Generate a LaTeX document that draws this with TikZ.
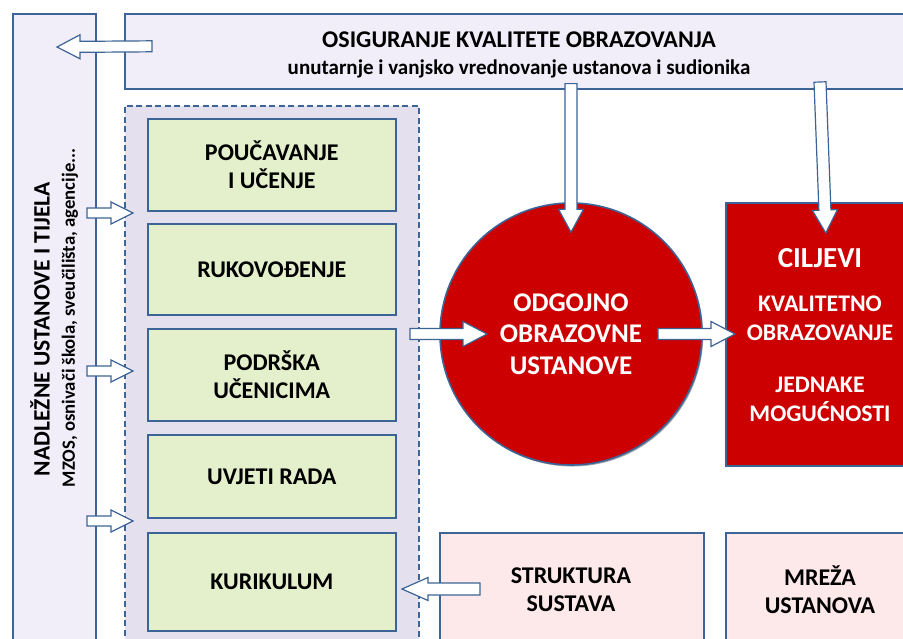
\documentclass[tikz,border=0pt]{standalone}
\usepackage{fontspec}
\setmainfont{Carlito}
\usetikzlibrary{calc,shadows}
\definecolor{bord}{RGB}{60,100,150}
\definecolor{lav}{RGB}{241,238,249}
\definecolor{dashfill}{RGB}{229,224,237}
\definecolor{grn}{RGB}{227,240,203}
\definecolor{redfill}{RGB}{204,0,0}
\definecolor{pinkfill}{RGB}{253,233,233}
\tikzset{
  frame/.style={draw=bord, line width=1.6pt},
  shad/.style={drop shadow={shadow xshift=1.2pt, shadow yshift=-1.5pt, fill=black, opacity=.35}},
  boxat/.style 2 args={anchor=north west, minimum width=#1, minimum height=#2, inner sep=0pt},
  lavbox/.style={frame, fill=lav, shad},
  greenbox/.style={frame, fill=grn, shad, align=center, font=\bfseries\fontsize{24}{28}\selectfont},
  redbox/.style={frame, fill=redfill, shad, text=white},
  pinkbox/.style={frame, fill=pinkfill, shad},
  dashbox/.style={draw=bord, line width=1.7pt, dash pattern=on 6pt off 3.5pt, fill=dashfill},
  barrow/.style={draw=bord, line width=1.2pt, fill=white, line join=miter},
  txtb/.style 2 args={font=\bfseries\fontsize{#1}{#2}\selectfont, align=center, inner sep=0pt},
}
\newcommand\blockarrow[5]{%
  \path (#4) coordinate (bat) (#5) coordinate (bah);
  \path ($(bah)!#3!(bat)$) coordinate (bab);
  \draw[barrow] ($(bat)!#1!90:(bah)$) -- ($(bab)!#1!90:(bah)$) -- ($(bab)!#2!90:(bah)$) -- (bah)
    -- ($(bab)!#2!-90:(bah)$) -- ($(bab)!#1!-90:(bah)$) -- ($(bat)!#1!-90:(bah)$) -- cycle;}
\begin{document}
\begin{tikzpicture}[x=1pt,y=-1pt]
\useasboundingbox (0,0) rectangle (903,638);
\clip (0,0) rectangle (903,638);
\fill[white] (0,0) rectangle (903,638);

% left box
\node[lavbox, boxat={83pt}{680pt}] (left) at (12,13) {};
\node[txtb={23.5}{28}, rotate=90] (ltitle) at (40,329) {NADLEŽNE USTANOVE I TIJELA};
\node[txtb={18.7}{22}, rotate=90] (lsub) at (70,318) {MZOS, osnivači škola, sveučilišta, agencije...};

% top box
\node[lavbox, boxat={800pt}{75pt}] (top) at (124,13) {};
\node[txtb={24}{28}] (ttitle) at (519,40) {OSIGURANJE KVALITETE OBRAZOVANJA};
\node[txtb={21}{25}] (tsub) at (519,69) {unutarnje i vanjsko vrednovanje ustanova i sudionika};

% dashed group
\node[dashbox, boxat={294pt}{560pt}] (group) at (124,105) {};

% green boxes
\node[greenbox, boxat={248pt}{92pt}] (g1) at (147,118) {POUČAVANJE\\I UČENJE};
\node[greenbox, boxat={248pt}{91pt}] (g2) at (147,223) {RUKOVOĐENJE};
\node[greenbox, boxat={248pt}{92pt}] (g3) at (147,328) {PODRŠKA\\UČENICIMA};
\node[greenbox, boxat={248pt}{83pt}] (g4) at (147,434) {UVJETI RADA};
\node[greenbox, boxat={248pt}{98pt}] (g5) at (147,532) {KURIKULUM};

% circle
\node[circle, frame, fill=redfill, shad, minimum size=262pt, inner sep=0pt, text=white,
      align=center, font=\bfseries\fontsize{27}{31.5}\selectfont] (inst) at (571,334) {ODGOJNO\\OBRAZOVNE\\USTANOVE};

% goals
\node[redbox, boxat={200pt}{263pt}] (goal) at (725,202) {};
\node[txtb={29}{34}, text=white] (gt) at (820,258) {CILJEVI};
\node[txtb={23.8}{29}, text=white] (gq) at (820,318) {KVALITETNO\\OBRAZOVANJE};
\node[txtb={23.8}{29}, text=white] (ge) at (820,399) {JEDNAKE\\MOGUĆNOSTI};

% pink boxes
\node[pinkbox, boxat={264pt}{130pt}] (struct) at (439,532) {};
\node[txtb={24}{28}] (st) at (571,590) {STRUKTURA\\SUSTAVA};
\node[pinkbox, boxat={200pt}{130pt}] (net) at (725,532) {};
\node[txtb={24}{28}] (nt) at (820,590) {MREŽA\\USTANOVA};

% block arrows
\coordinate (a0t) at ($(top.west)+(28,-5)$);
\coordinate (a0h) at (57,47);
\blockarrow{5.5pt}{12pt}{23pt}{a0t}{a0h}

\coordinate (a1t) at (87,213);  \coordinate (a1h) at (133,213);
\coordinate (a2t) at (87,371);  \coordinate (a2h) at (133,371);
\coordinate (a3t) at (87,521);  \coordinate (a3h) at (133,521);
\blockarrow{5pt}{11pt}{22pt}{a1t}{a1h}
\blockarrow{5pt}{11pt}{22pt}{a2t}{a2h}
\blockarrow{5pt}{11pt}{22pt}{a3t}{a3h}

\coordinate (a4t) at ($(top.south -| inst.north)+(0,-6)$);
\coordinate (a4h) at ($(inst.north)+(0,30)$);
\blockarrow{6pt}{12.5pt}{23pt}{a4t}{a4h}

\coordinate (a5t) at (820,82);
\coordinate (a5h) at ($(goal.north)+(0,31)$);
\blockarrow{6pt}{12.5pt}{23pt}{a5t}{a5h}

\coordinate (a6t) at (410,334);
\coordinate (a6h) at (487,334);
\blockarrow{5.5pt}{12.5pt}{24pt}{a6t}{a6h}

\coordinate (a7t) at (658,334);
\coordinate (a7h) at ($(goal.west |- inst.center)+(10,0)$);
\blockarrow{5.5pt}{12.5pt}{24pt}{a7t}{a7h}

\coordinate (a8t) at (480,589);
\coordinate (a8h) at (402,589);
\blockarrow{6pt}{11.5pt}{26pt}{a8t}{a8h}
\end{tikzpicture}
\end{document}
